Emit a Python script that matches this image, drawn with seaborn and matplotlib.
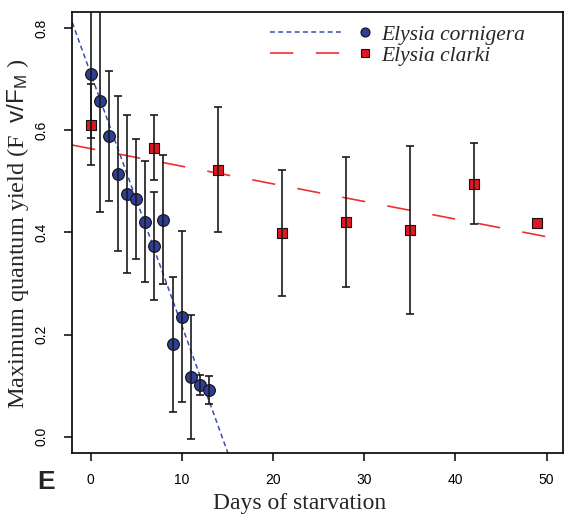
import numpy as np
import pandas as pd
import matplotlib
matplotlib.use("Agg")
import matplotlib.pyplot as plt
import seaborn as sns
from matplotlib.legend_handler import HandlerBase
from matplotlib.lines import Line2D

# ---- data ----
corn_days = [0, 1, 2, 3, 4, 5, 6, 7, 8, 9, 10, 11, 12, 13]
corn_mean = [0.710, 0.657, 0.589, 0.515, 0.475, 0.465, 0.421, 0.373, 0.425,
             0.181, 0.235, 0.117, 0.101, 0.091]
corn_sd = [0.125, 0.218, 0.127, 0.152, 0.155, 0.118, 0.118, 0.106, 0.127,
           0.132, 0.167, 0.122, 0.020, 0.027]

clarki_days = [0, 7, 14, 21, 28, 35, 42, 49]
clarki_mean = [0.611, 0.566, 0.523, 0.399, 0.420, 0.405, 0.495, 0.419]
clarki_sd = [0.079, 0.064, 0.122, 0.123, 0.127, 0.164, 0.079, np.nan]

# regression lines (intercept, slope)
corn_fit = (0.712, -0.0494)
clarki_fit = (0.564, -0.00345)

x_ticks = [0, 10, 20, 30, 40, 50]
y_ticks = [0.0, 0.2, 0.4, 0.6, 0.8]
x_label = "Days of starvation"
y_label = r"Maximum quantum yield (F  $\mathsf{v/F_M}$ )"
labels = ["Elysia cornigera", "Elysia clarki"]

BLUE = "#2e3d96"
BLUE_LINE = "#3a4cb4"
RED = "#e4161d"
RED_LINE = "#f03030"

corn = pd.DataFrame({"day": corn_days, "y": corn_mean, "sd": corn_sd})
clarki = pd.DataFrame({"day": clarki_days, "y": clarki_mean, "sd": clarki_sd})

sns.set_theme(style="white")
plt.rcParams["font.family"] = ["Liberation Sans", "DejaVu Sans"]
plt.rcParams["mathtext.fontset"] = "custom"
plt.rcParams["mathtext.sf"] = "Liberation Sans"
plt.rcParams["mathtext.rm"] = "Liberation Serif"

fig = plt.figure(figsize=(5.66, 5.16), dpi=100)
ax = fig.add_axes([0.1277, 0.1221, 0.8670, 0.8552])

# regression lines
ax.axline((0, corn_fit[0]), slope=corn_fit[1], color=BLUE_LINE, lw=1.1,
          dashes=(3.2, 2.2), zorder=2)
ax.axline((0, clarki_fit[0]), slope=clarki_fit[1], color=RED_LINE, lw=1.2,
          dashes=(14, 13.5), zorder=2)

# points
sns.scatterplot(data=corn, x="day", y="y", ax=ax, marker="o", s=72,
                color=BLUE, edgecolor="#111111", linewidth=0.8, zorder=3,
                legend=False)
sns.scatterplot(data=clarki, x="day", y="y", ax=ax, marker="s", s=62,
                color=RED, edgecolor="#111111", linewidth=0.8, zorder=3,
                legend=False)

# error bars (drawn over markers like the reference)
for df in (corn, clarki):
    d = df.dropna()
    ax.errorbar(d["day"], d["y"], yerr=d["sd"], fmt="none", ecolor="#1a1a1a",
                elinewidth=1.2, capsize=2.8, capthick=1.2, zorder=4)

ax.set_xlim(-2, 51.8)
ax.set_ylim(-0.032, 0.832)
ax.set_xticks(x_ticks)
ax.set_xticklabels([str(t) for t in x_ticks])
ax.set_yticks(y_ticks)
ax.set_yticklabels([f"{t:.1f}" for t in y_ticks])
ax.tick_params(axis="both", direction="out", length=6, width=1.1,
               color="black", labelsize=10, labelcolor="black",
               bottom=True, left=True)
ax.tick_params(axis="x", pad=8.5)
ax.tick_params(axis="y", pad=10.8)
for lab in ax.get_yticklabels():
    lab.set_rotation(90)
    lab.set_va("center")
for s in ax.spines.values():
    s.set_color("black")
    s.set_linewidth(1.2)

ax.set_xlabel(x_label, fontsize=17, family="Liberation Serif")
ax.set_ylabel(y_label, fontsize=17.5, family="Liberation Serif")
ax.xaxis.set_label_coords(0.464, -0.090)
ax.yaxis.set_label_coords(-0.084, 0.497)


class LineMarkerHandler(HandlerBase):
    def __init__(self, color, dashes, marker, mcolor, ms, lw):
        super().__init__()
        self.c, self.d, self.m, self.mc, self.ms, self.lw = color, dashes, marker, mcolor, ms, lw

    def create_artists(self, legend, orig_handle, xdescent, ydescent,
                       width, height, fontsize, trans):
        y = height / 2 - ydescent
        x0 = -xdescent
        line = Line2D([x0, x0 + 0.70 * width], [y, y], color=self.c,
                      lw=self.lw, dashes=self.d, transform=trans)
        mk = Line2D([x0 + 0.93 * width], [y], marker=self.m, color=self.mc,
                    markeredgecolor="#111111", markeredgewidth=0.8,
                    markersize=self.ms, linestyle="none", transform=trans)
        return [line, mk]


h1 = Line2D([], [])
h2 = Line2D([], [])
leg = ax.legend([h1, h2], labels, loc="upper left",
                bbox_to_anchor=(0.403, 0.970), frameon=False,
                prop={"family": "Liberation Serif", "style": "italic", "size": 15.5},
                handlelength=4.75, handletextpad=0.42, labelspacing=0.03,
                borderpad=0, borderaxespad=0,
                handler_map={h1: LineMarkerHandler(BLUE_LINE, (3.2, 2.2), "o", BLUE, 6.5, 1.1),
                             h2: LineMarkerHandler(RED_LINE, (14, 13.5), "s", RED, 6.0, 1.2)})

fig.text(0.082, 0.066, "E", fontsize=19, fontweight="bold",
         family="Liberation Sans", ha="center", va="center")

fig.savefig("out.png", dpi=100)
